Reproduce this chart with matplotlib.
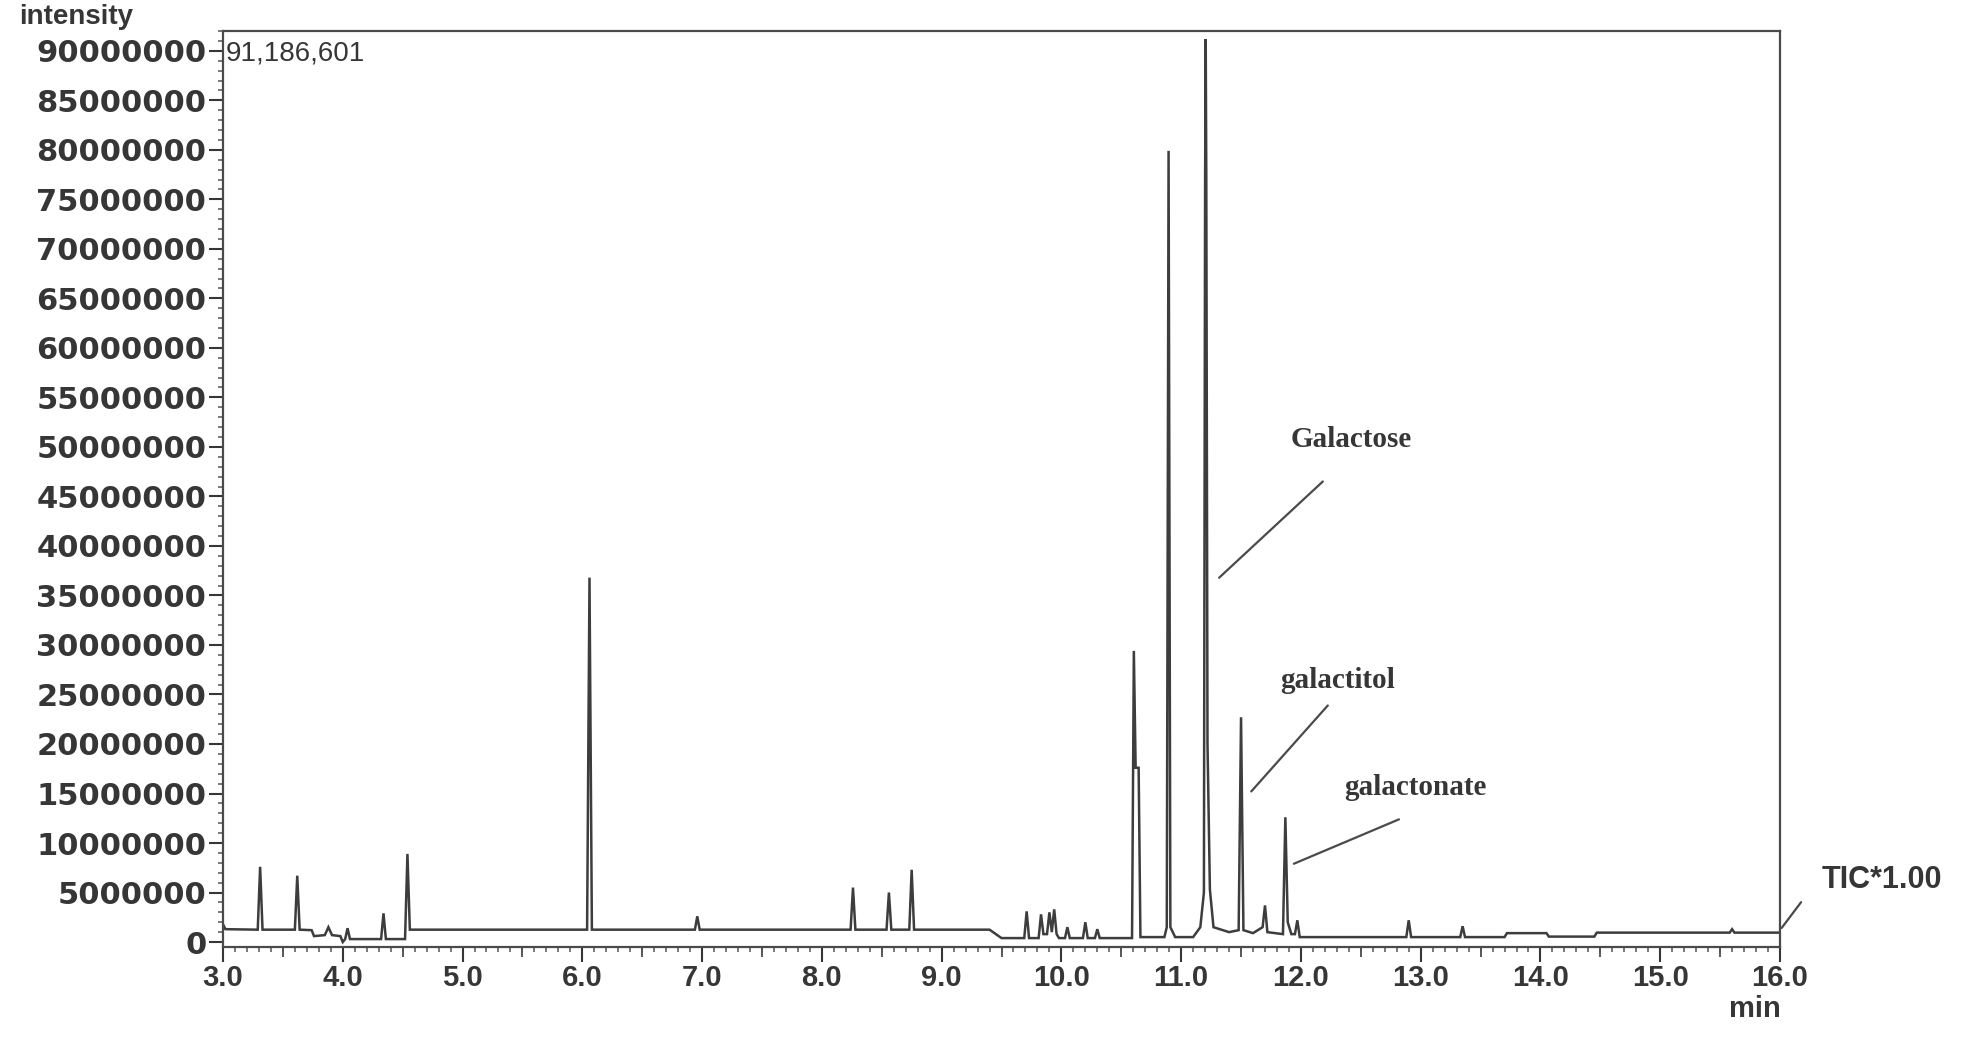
import matplotlib
matplotlib.use("Agg")
import matplotlib.pyplot as plt
from matplotlib.ticker import MultipleLocator, FixedLocator, FuncFormatter

# ---- data (time in min, intensity in millions) ----
time_min = [
    3.00, 3.02, 3.29, 3.31, 3.33, 3.60, 3.62, 3.64, 3.74, 3.76, 3.85, 3.88, 3.91,
    3.98, 4.00, 4.02, 4.04, 4.06, 4.32, 4.34, 4.36, 4.52, 4.54, 4.56,
    6.04, 6.06, 6.08, 6.94, 6.96, 6.98, 8.24, 8.26, 8.28, 8.54, 8.56, 8.58,
    8.73, 8.75, 8.77, 9.40, 9.50, 9.69, 9.71, 9.73, 9.81, 9.83, 9.85, 9.88,
    9.90, 9.92, 9.94, 9.96, 9.98, 10.03, 10.05, 10.07, 10.18, 10.20, 10.22,
    10.28, 10.30, 10.32, 10.59, 10.605, 10.62, 10.645, 10.66,
    10.86, 10.88, 10.895, 10.91, 10.95, 11.10, 11.16, 11.19, 11.200, 11.205,
    11.21, 11.22, 11.24, 11.27, 11.40, 11.48, 11.50, 11.52, 11.60, 11.68,
    11.70, 11.72, 11.85, 11.87, 11.89, 11.92, 11.95, 11.97, 11.99,
    12.88, 12.90, 12.92, 13.33, 13.35, 13.37, 13.70, 13.72, 14.05, 14.07,
    14.45, 14.47, 15.58, 15.60, 15.62, 16.00,
]
intensity_M = [
    1.8, 1.3, 1.25, 7.6, 1.25, 1.25, 6.7, 1.25, 1.2, 0.6, 0.7, 1.5, 0.7,
    0.6, 0.0, 0.3, 1.4, 0.3, 0.3, 2.9, 0.3, 0.3, 8.9, 1.25,
    1.25, 36.8, 1.25, 1.25, 2.6, 1.25, 1.25, 5.5, 1.25, 1.25, 5.0, 1.25,
    1.25, 7.3, 1.25, 1.25, 0.4, 0.4, 3.1, 0.4, 0.4, 2.8, 0.8, 0.8,
    3.0, 1.0, 3.3, 0.8, 0.4, 0.4, 1.5, 0.4, 0.4, 2.0, 0.4,
    0.4, 1.3, 0.4, 0.4, 29.4, 17.6, 17.6, 0.5,
    0.5, 1.5, 79.9, 1.5, 0.5, 0.5, 1.5, 5.0, 77.0, 91.19,
    77.0, 20.0, 5.3, 1.5, 1.0, 1.2, 22.7, 1.2, 0.9, 1.5,
    3.7, 1.0, 0.8, 12.6, 2.0, 0.8, 0.8, 2.2, 0.5,
    0.5, 2.2, 0.5, 0.5, 1.6, 0.5, 0.5, 0.9, 0.9, 0.55,
    0.55, 0.95, 0.95, 1.3, 0.95, 0.95,
]

x_ticks = [3.0, 4.0, 5.0, 6.0, 7.0, 8.0, 9.0, 10.0, 11.0, 12.0, 13.0, 14.0, 15.0, 16.0]
y_ticks = [0, 5000000, 10000000, 15000000, 20000000, 25000000, 30000000, 35000000,
           40000000, 45000000, 50000000, 55000000, 60000000, 65000000, 70000000,
           75000000, 80000000, 85000000, 90000000]
max_label = "91,186,601"

compounds = ["Galactose", "galactitol", "galactonate"]
peak_tip_t = [11.30, 11.57, 11.92]
peak_tip_M = [36.6, 15.0, 7.8]
label_t = [12.42, 12.31, 12.96]
label_M = [50.7, 26.4, 15.6]
leader_t = [12.20, 12.24, 12.84]
leader_M = [46.7, 24.1, 12.5]

ink = "#363636"
line_c = "#3d3d3d"

fig = plt.figure(figsize=(19.69, 10.39), dpi=100)
W, H = 1969, 1039
ax = fig.add_axes([223 / W, 92 / H, (1780 - 223) / W, (947 - 31) / H])

ax.plot(time_min, [v * 1e6 for v in intensity_M], color=line_c, lw=1.8,
        solid_joinstyle="miter")

ax.set_xlim(3.0, 16.0)
ax.set_ylim(-0.5e6, 92.0e6)

for s in ["left", "top", "right", "bottom"]:
    ax.spines[s].set_color("#4a4a4a")
    ax.spines[s].set_linewidth(1.6)

sans = "Liberation Sans"
serif = "Liberation Serif"

ax.yaxis.set_major_locator(FixedLocator(y_ticks))
ax.yaxis.set_major_formatter(FuncFormatter(lambda v, p: f"{int(round(v))}"))
ax.yaxis.set_minor_locator(MultipleLocator(1e6))
ax.xaxis.set_major_locator(FixedLocator(x_ticks))
ax.xaxis.set_major_formatter(FuncFormatter(lambda v, p: f"{v:.1f}"))
ax.xaxis.set_minor_locator(MultipleLocator(0.1))

ax.tick_params(axis="y", which="major", direction="out", length=10, width=1.5,
               pad=2, labelsize=22, colors=ink)
ax.tick_params(axis="y", which="minor", direction="out", length=3.5, width=1.1,
               colors="#555555")
ax.tick_params(axis="x", which="major", direction="out", length=11, width=1.5,
               pad=1, labelsize=21, colors=ink)
ax.tick_params(axis="x", which="minor", direction="out", length=3.5, width=1.1,
               colors="#555555")
for lab in ax.get_yticklabels():
    lab.set_fontfamily("DejaVu Sans")
    lab.set_fontweight("bold")
for lab in ax.get_xticklabels():
    lab.set_fontfamily(sans)
    lab.set_fontweight("bold")

# half-minute ticks
sec = ax.secondary_xaxis("bottom")
sec.set_xticks([t + 0.5 for t in x_ticks[:-1]])
sec.tick_params(axis="x", direction="out", length=7, width=1.3, colors="#4a4a4a",
                labelbottom=False)
sec.spines["bottom"].set_visible(False)

# max intensity label
ax.text(3.02, 89.7e6, max_label, fontsize=20, fontfamily=sans, color=ink,
        va="center", ha="left")

# compound annotations
for name, tt, tm, lt, lm, qt, qm in zip(compounds, peak_tip_t, peak_tip_M,
                                         label_t, label_M, leader_t, leader_M):
    ax.text(lt, lm * 1e6, name, fontsize=21, fontfamily=serif, fontweight="bold",
            color=ink, ha="center", va="center")
    ax.annotate("", xy=(tt, tm * 1e6), xytext=(qt, qm * 1e6),
                arrowprops=dict(arrowstyle="-", color="#4a4a4a", lw=1.6))

# TIC leader
ax.annotate("", xy=(16.0, 1.2e6), xytext=(16.19, 4.25e6), annotation_clip=False,
            arrowprops=dict(arrowstyle="-", color="#4a4a4a", lw=1.6))
fig.text(1822 / W, 1 - 880 / H, "TIC*1.00", fontsize=22, fontfamily=sans,
         fontweight="bold", color=ink, ha="left", va="center")

fig.text(19 / W, 1 - 4 / H, "intensity", fontsize=20, fontfamily=sans,
         fontweight="bold", color=ink, ha="left", va="top")
fig.text(1755 / W, 1 - 1009 / H, "min", fontsize=21, fontfamily=sans,
         fontweight="bold", color=ink, ha="center", va="center")

fig.savefig("out.png", dpi=100, facecolor="white")
